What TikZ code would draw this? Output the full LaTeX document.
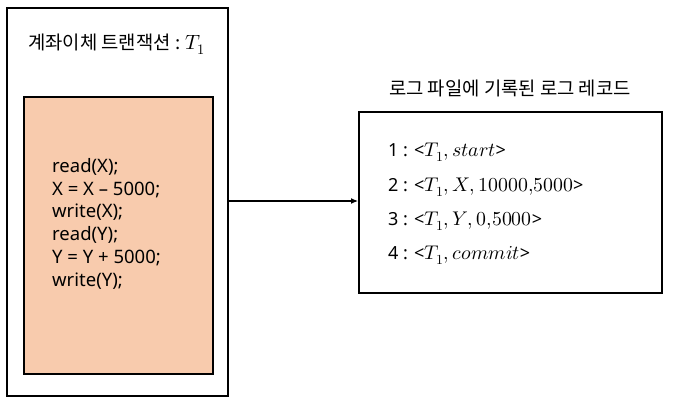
\documentclass[tikz,border=0pt]{standalone}
\usepackage{fontspec}
\setmainfont{Noto Sans}
\newfontfamily\kr{Noto Sans CJK KR}
\usepackage{unicode-math}
\setmathfont{Latin Modern Math}[Scale=1.1]
\usetikzlibrary{arrows.meta}
\definecolor{peach}{HTML}{F8CBAD}
\tikzset{
  box/.style={draw=black, line width=1.6pt},
  codetext/.style={anchor=west, font=\fontsize{18.5}{22}\selectfont, inner sep=0pt},
  logline/.style={anchor=west, font=\fontsize{18}{22}\selectfont, inner sep=0pt},
  titletext/.style={font=\fontsize{18.8}{22}\selectfont\kr, inner sep=0pt},
  conn/.style={-{Latex[length=7pt,width=6pt]}, line width=1.1pt}
}
\begin{document}
\begin{tikzpicture}[x=1pt,y=-1pt]
\useasboundingbox (0,0) rectangle (673,404);
\node[box, minimum width=221pt, minimum height=388pt, inner sep=0pt, anchor=north west] (outer) at (6,7) {};
\node[box, fill=peach, minimum width=189pt, minimum height=277pt, inner sep=0pt, anchor=north west] (inner) at (23,96) {};
\node[titletext] (ttl) at (117,44) {계좌이체 트랜잭션 : $T_1$};
\node[codetext] (c1) at (52,167) {read(X);};
\node[codetext] (c2) at (52,189.5) {X = X – 5000;};
\node[codetext] (c3) at (52,212.5) {write(X);};
\node[codetext] (c4) at (52,235) {read(Y);};
\node[codetext] (c5) at (52,258) {Y = Y + 5000;};
\node[codetext] (c6) at (52,281) {write(Y);};
\node[box, minimum width=303pt, minimum height=181pt, inner sep=0pt, anchor=north west] (log) at (358,111) {};
\node[titletext] (ltitle) at (510,88) {로그 파일에 기록된 로그 레코드};
\node[logline] (l1) at (388,152) {1 : <$T_1, start$>};
\node[logline] (l2) at (388,187) {2 : <$T_1, X, 10000{,}5000$>};
\node[logline] (l3) at (388,221) {3 : <$T_1, Y, 0{,}5000$>};
\node[logline] (l4) at (388,255) {4 : <$T_1, commit$>};
\coordinate (s) at (outer.east |- 0,201);
\coordinate (e) at (log.west |- 0,201);
\draw[conn] (s) -- (e);
\end{tikzpicture}
\end{document}
